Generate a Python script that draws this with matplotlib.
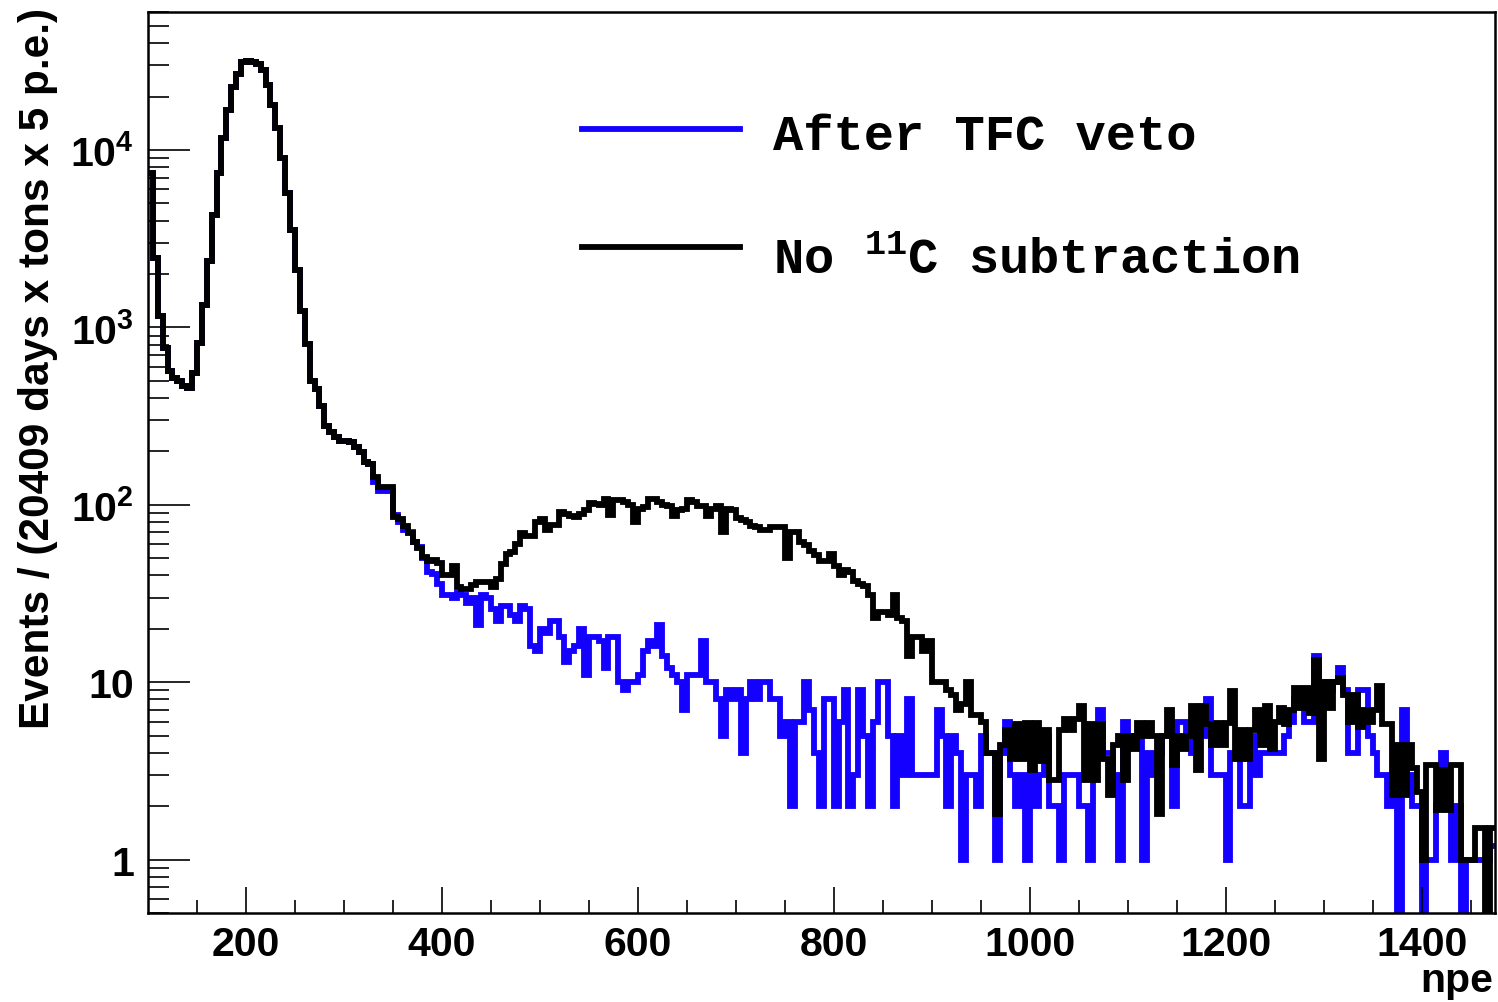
import numpy as np
import matplotlib
matplotlib.use("Agg")
import matplotlib.pyplot as plt
from matplotlib.ticker import FixedLocator, NullFormatter

plt.rcParams['mathtext.fontset'] = 'custom'
plt.rcParams['mathtext.bf'] = 'Liberation Sans:bold'
plt.rcParams['mathtext.rm'] = 'Liberation Sans:bold'
plt.rcParams['mathtext.tt'] = 'Liberation Mono:bold'

# ---- data (bin width 5 p.e., 100 .. 1475 npe) ----
bin_lo = 100
bin_hi = 1475
bin_w = 5

no_c11_subtraction = [
    7400, 2460, 1160, 770, 570, 522, 500, 468, 458, 556,
    820, 1346, 2356, 4315, 7400, 11640, 16800, 22700, 27000, 31350,
    31770, 31500, 30700, 28100, 23200, 17900, 13240, 8980, 5710, 3555,
    2120, 1235, 802, 499, 448, 361, 279, 256, 240, 230,
    230, 225, 211, 198, 174, 170, 143, 126, 126, 126,
    85, 83, 76, 69, 62, 57, 51, 48, 49, 47,
    40, 40, 45, 34.5, 33.7, 33.7, 35.2, 36.5, 36.8, 36.5,
    34.5, 38.4, 46.6, 53, 54, 60, 69, 67, 67, 80,
    83, 72, 76.5, 76.5, 91, 89, 87, 85, 89, 93,
    103, 101, 100, 108, 88, 106, 106, 104, 100, 80,
    95, 97, 108, 108, 104, 100, 98, 86, 93, 95,
    106, 104, 99, 99, 86, 95, 99, 70, 95, 93,
    84, 82, 80, 76, 75, 72, 72, 75, 75, 75,
    50, 70, 70, 62, 59, 55, 52, 48, 48, 53,
    45, 40, 43, 42, 37, 36, 35, 31, 23, 25,
    25, 24, 31, 23, 22, 14, 18, 18, 15, 17,
    10, 10, 10, 9, 8.5, 7, 7.5, 10, 6.5, 6.5,
    6, 4, 4, 1.8, 4.4, 5.4, 3.7, 5.8, 3.7, 5.9,
    3.2, 5.9, 3.6, 5.4, 2.8, 2.8, 5.4, 6.2, 5.4, 6.2,
    7.3, 2.8, 5.8, 2.8, 5.8, 3.7, 2.3, 4.4, 5, 2.8,
    5, 4.2, 5.9, 5, 5.9, 5, 1.8, 5, 7, 3.4,
    5, 4.2, 5, 7.3, 3.2, 7.3, 5.8, 4.4, 5.9, 4.4,
    5.9, 8.9, 3.7, 5.4, 3.7, 5.4, 7, 4.4, 7.3, 4.2,
    6, 7.2, 5.8, 7, 9.3, 7.2, 9.3, 6.7, 13.3, 3.7,
    10, 7.2, 10, 10.5, 8.5, 6, 8.5, 5.6, 7, 6,
    7, 9.5, 5.8, 5.8, 2.3, 4.4, 2.3, 4.4, 3.3, 2.4,
    1, 3.4, 3.4, 1.9, 3.2, 1.9, 3.4, 3.4, 1, 1,
    1, 1.5, 1.5, 0, 1.5,
]

after_tfc_veto = [
    7400, 2460, 1160, 770, 570, 522, 500, 468, 458, 556,
    820, 1346, 2356, 4315, 7400, 11640, 16800, 22700, 27000, 31350,
    31770, 31500, 30700, 28100, 23200, 17900, 13240, 8980, 5710, 3555,
    2120, 1235, 802, 499, 448, 361, 279, 256, 240, 230,
    230, 225, 211, 198, 174, 170, 135, 120, 122, 120,
    88, 80, 72, 70, 62, 58, 50, 42, 41, 36,
    31, 31, 30, 32, 31, 28, 30, 21, 31, 30,
    26, 22, 27, 27, 24, 22, 27, 26, 16, 15,
    20, 19, 22, 22, 18, 13, 15, 16, 20, 11,
    18, 18, 17, 12, 18, 18, 10, 9, 10, 10,
    11, 15, 17, 16, 21, 14, 12, 11, 10, 7,
    11, 11, 11, 17, 10, 10, 8, 5, 9, 8,
    9, 4, 8, 10, 8, 10, 10, 8, 8, 5,
    6, 2, 6, 6, 10, 7, 4, 2, 8, 8,
    2, 6, 9, 2, 3, 9, 5, 2, 6, 10,
    10, 5, 2, 5, 3, 8, 3, 3, 3, 3,
    3, 7, 5, 2, 5, 4, 1, 3, 3, 2,
    5, 4, 4, 1, 4, 6, 3, 2, 3, 1,
    3, 2, 3, 5, 2, 2, 1, 3, 3, 3,
    2, 2, 1, 4, 7, 4, 4, 3, 1, 6,
    5, 5, 5, 1, 4, 3, 4, 5, 5, 2,
    6, 6, 5, 4, 5, 5, 8, 3, 3, 3,
    1, 4, 4, 2, 2, 5, 3, 4, 4, 4,
    4, 4, 5, 6, 8, 8, 6, 6, 14, 10,
    10, 9, 10, 12, 9, 4, 4, 9, 9, 5,
    4, 3, 3, 2, 3, 0, 7, 3, 2, 2,
    0, 1, 1, 2, 4, 2, 1, 2, 0, 1,
    1, 1, 1, 1, 1.2,
]

x_ticks = [200, 400, 600, 800, 1000, 1200, 1400]
y_ticks = [1, 10, 100, 1000, 10000]
y_ticklabels = ['1', '10', r'$\mathbf{10^{2}}$', r'$\mathbf{10^{3}}$', r'$\mathbf{10^{4}}$']
legend_labels = ['After TFC veto', r'No $\mathtt{^{11}}$C subtraction']
y_title = 'Events / (20409 days x tons x 5 p.e.)'
x_title = 'npe'

# ---- figure ----
W, H = 1498, 1003
fig = plt.figure(figsize=(W / 100, H / 100), dpi=100)
ax = fig.add_axes([148 / W, 1 - 914 / H, (1495 - 148) / W, (914 - 13) / H])

edges = np.arange(bin_lo, bin_hi + 1, bin_w)
floor = 1e-3
blue = np.asarray(after_tfc_veto, float)
black = np.asarray(no_c11_subtraction, float)
blue = np.where(blue > 0, blue, floor)
black = np.where(black > 0, black, floor)

BLUE = '#1400ff'
LW = 4.2
ax.stairs(blue, edges, baseline=None, color=BLUE, lw=LW)
ax.stairs(black, edges, baseline=None, color='black', lw=LW)

ax.set_yscale('log')
ax.set_xlim(bin_lo, bin_hi)
ax.set_ylim(0.5, 6e4)

ax.xaxis.set_major_locator(FixedLocator(x_ticks))
ax.xaxis.set_minor_locator(FixedLocator(np.arange(150, 1475, 50)))
ax.set_xticklabels([str(t) for t in x_ticks])
ax.yaxis.set_major_locator(FixedLocator(y_ticks))
minors = [m * 10.0 ** e for e in range(-1, 5) for m in range(2, 10)]
ax.yaxis.set_minor_locator(FixedLocator([v for v in minors if 0.5 <= v <= 6e4]))
ax.yaxis.set_minor_formatter(NullFormatter())
ax.set_yticklabels(y_ticklabels)

for lab in ax.get_xticklabels() + ax.get_yticklabels():
    lab.set_fontfamily('Liberation Sans')
    lab.set_fontweight('bold')
    lab.set_fontsize(29.5)

ax.tick_params(axis='x', which='major', direction='in', length=19, width=1.2, pad=9,
               top=False)
ax.tick_params(axis='x', which='minor', direction='in', length=9.5, width=1.2, top=False)
ax.tick_params(axis='y', which='major', direction='in', length=30, width=1.2, pad=10,
               right=False)
ax.tick_params(axis='y', which='minor', direction='in', length=15, width=1.2, right=False)
for sp in ax.spines.values():
    sp.set_linewidth(1.8)

# axis titles (ROOT style, aligned at the end of axes)
fig.text(38 / W, 1 - 8 / H, y_title, rotation=90, ha='center', va='top',
         fontfamily='Liberation Sans', fontweight='bold', fontsize=30.5)
fig.text(1493 / W, 1 - 1000 / H, x_title, ha='right', va='bottom',
         fontfamily='Liberation Sans', fontweight='bold', fontsize=29.5)

# legend
for (yl, yb, col, lab) in [(130, 150, BLUE, legend_labels[0]),
                           (248, 273, 'black', legend_labels[1])]:
    fig.add_artist(plt.Line2D([582 / W, 740 / W], [1 - yl / H, 1 - yl / H],
                              color=col, lw=LW, transform=fig.transFigure))
    fig.text(773 / W, 1 - yb / H, lab, ha='left', va='baseline',
             fontfamily='Liberation Mono', fontweight='bold', fontsize=36.3)

fig.savefig('out.png', dpi=100)
